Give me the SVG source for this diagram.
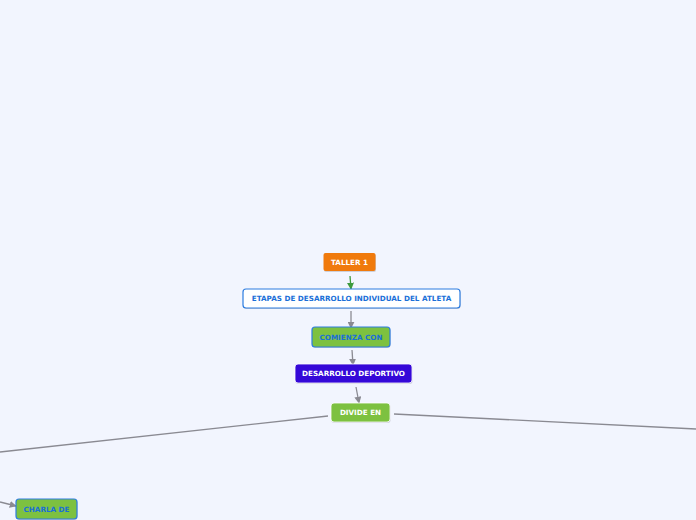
<svg xmlns="http://www.w3.org/2000/svg" width="696" height="520" viewBox="0 0 696 520">
<style>
.t{font-family:"DejaVu Sans","Verdana",sans-serif;font-weight:bold;font-size:7.2px;text-anchor:middle;dominant-baseline:central}
.w{fill:#ffffff}
.b{fill:#1a6fd8}
.c{fill:none;stroke:#8a8a92;stroke-width:1.3}
.sh{fill:#a8aab4;opacity:0.5}
</style>
<defs>
<marker id="ag" viewBox="0 0 10 10" refX="9" refY="5" markerWidth="7" markerHeight="7" orient="auto" markerUnits="userSpaceOnUse"><path d="M0,0 L10,5 L0,10 z" fill="#3d9a3d"/></marker>
<marker id="ay" viewBox="0 0 10 10" refX="9" refY="5" markerWidth="7" markerHeight="7" orient="auto" markerUnits="userSpaceOnUse"><path d="M0,0 L10,5 L0,10 z" fill="#8a8a92"/></marker>
</defs>
<rect x="0" y="0" width="696" height="520" fill="#f2f5fe"/>
<g id="connectors">
<path d="M350,276 L351,289" fill="none" stroke="#3d9a3d" stroke-width="1.3" marker-end="url(#ag)"/>
<path class="c" d="M351,311 L351,328" marker-end="url(#ay)"/>
<path class="c" d="M352,350 L353,365" marker-end="url(#ay)"/>
<path class="c" d="M356,387 L359,403" marker-end="url(#ay)"/>
<path class="c" d="M328,416 L0,452"/>
<path class="c" d="M394,414 L696,429"/>
<path class="c" d="M0,502 L16,506" marker-end="url(#ay)"/>
</g>
<g id="taller1">
<rect x="324" y="254" width="52" height="18" rx="2" class="sh"/>
<rect x="323.5" y="253" width="52" height="18" rx="2" fill="#f07a0c"/>
<text x="349.5" y="262.5" class="t w">TALLER 1</text>
</g>
<g id="etapas">
<rect x="243.5" y="290" width="217" height="19" rx="3" class="sh"/>
<rect x="243" y="289" width="217" height="19" rx="3" fill="#ffffff" stroke="#2c7ce0" stroke-width="1.2"/>
<text x="351.5" y="298.5" class="t b">ETAPAS DE DESARROLLO INDIVIDUAL DEL ATLETA</text>
</g>
<g id="comienza">
<rect x="312.5" y="328" width="78" height="20" rx="3" class="sh"/>
<rect x="312" y="327" width="78" height="20" rx="3" fill="#7dc140" stroke="#2c7ce0" stroke-width="1.2"/>
<text x="351" y="337" class="t b">COMIENZA CON</text>
</g>
<g id="desarrollo">
<rect x="295.5" y="365" width="117" height="19" rx="3" class="sh"/>
<rect x="295" y="364" width="117" height="19" rx="3" fill="#3508d8" stroke="#ffffff" stroke-width="0.8"/>
<text x="353.5" y="373.5" class="t w">DESARROLLO DEPORTIVO</text>
</g>
<g id="divide">
<rect x="331.5" y="404" width="59" height="19" rx="3" class="sh"/>
<rect x="331" y="403" width="59" height="19" rx="3" fill="#7dc140" stroke="#ffffff" stroke-width="0.8"/>
<text x="360.5" y="412.5" class="t w">DIVIDE EN</text>
</g>
<g id="charla">
<rect x="16.5" y="500" width="61" height="20" rx="3" class="sh"/>
<rect x="16" y="499" width="61" height="20" rx="3" fill="#7dc140" stroke="#2c7ce0" stroke-width="1.2"/>
<text x="46.5" y="509" class="t b">CHARLA DE</text>
</g>
</svg>
